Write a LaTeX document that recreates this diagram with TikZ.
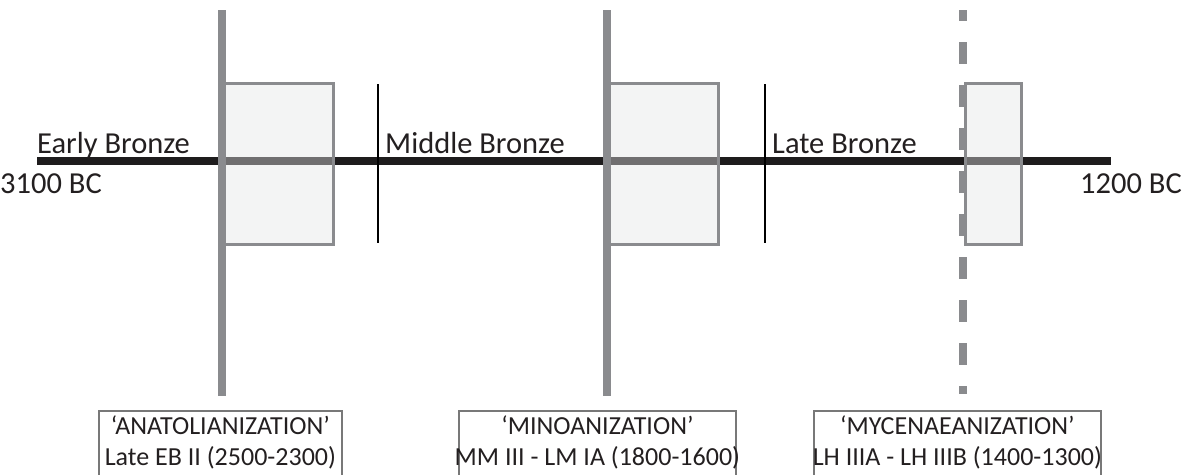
\documentclass[tikz,border=0pt]{standalone}
\usepackage{fontspec}
\setmainfont{Carlito}
\definecolor{vgray}{RGB}{138,139,142}
\definecolor{bfill}{RGB}{226,228,228}
\definecolor{tlblack}{RGB}{30,28,29}
\definecolor{lblgray}{RGB}{120,120,120}
\definecolor{txt}{RGB}{35,31,32}
\tikzset{
  timeline/.style={line width=8pt, color=tlblack},
  eventline/.style={line width=8pt, color=vgray},
  dashline/.style={line width=8pt, color=vgray, dash pattern=on 22pt off 21pt, dash phase=11pt},
  period/.style={draw=vgray, line width=3pt, fill=bfill, fill opacity=0.42, inner sep=0pt, minimum height=161pt},
  divider/.style={line width=1.5pt, color=black},
  lbl/.style={font=\fontsize{30.5}{34}\selectfont, text=txt, inner sep=0pt},
  evbox/.style={draw=lblgray, line width=1.8pt, anchor=north west, inner sep=0pt, minimum height=80pt},
  evtext/.style={align=center, inner sep=0pt, anchor=base, font=\fontsize{26}{31}\selectfont, text=txt},
}
\begin{document}
\begin{tikzpicture}[x=1pt,y=-1pt]
\useasboundingbox (0,0) rectangle (1182,474);
\clip (0,0) rectangle (1182,474);
% timeline
\coordinate (t0) at (37,161);
\coordinate (t1) at (1111,161);
\draw[timeline] (t0) -- (t1);
% dashed event line (behind its box)
\coordinate (e3t) at (963,10); \coordinate (e3b) at (963,394);
\draw[dashline] (e3t) -- (e3b);
% period boxes
\node[period, minimum width=111pt] (b1) at (278,163.5) {};
\node[period, minimum width=111pt] (b2) at (663,163.5) {};
\node[period, minimum width=56pt] (b3) at (993,163.5) {};
% dividers
\coordinate (d1t) at (378,84); \coordinate (d1b) at (378,243);
\coordinate (d2t) at (765,84); \coordinate (d2b) at (765,243);
\draw[divider] (d1t) -- (d1b);
\draw[divider] (d2t) -- (d2b);
% event lines
\coordinate (e1t) at (222,10); \coordinate (e1b) at (222,396);
\coordinate (e2t) at (607,10); \coordinate (e2b) at (607,396);
\draw[eventline] (e1t) -- (e1b);
\draw[eventline] (e2t) -- (e2b);
% labels
\node[lbl, anchor=base west] (eb) at (37,153) {Early Bronze};
\node[lbl, anchor=base west] (mb) at (385,153) {Middle Bronze};
\node[lbl, anchor=base west] (lb) at (772,153) {Late Bronze};
\node[lbl, anchor=base west] (s) at (0,193) {3100 BC};
\node[lbl, anchor=base east] (e) at (1182,193) {1200 BC};
% event boxes
\node[evbox, minimum width=243pt] (x1) at (98,410) {};
\node[evbox, minimum width=277pt] (x2) at (458,410) {};
\node[evbox, minimum width=287pt] (x3) at (813,410) {};
\node[evtext] (x1t) at (x1.center |- 0,465) {‘ANATOLIANIZATION’\\Late EB II (2500-2300)};
\node[evtext] (x2t) at (x2.center |- 0,465) {‘MINOANIZATION’\\MM III - LM IA (1800-1600)};
\node[evtext] (x3t) at (x3.center |- 0,465) {‘MYCENAEANIZATION’\\LH IIIA - LH IIIB (1400-1300)};
\end{tikzpicture}
\end{document}
